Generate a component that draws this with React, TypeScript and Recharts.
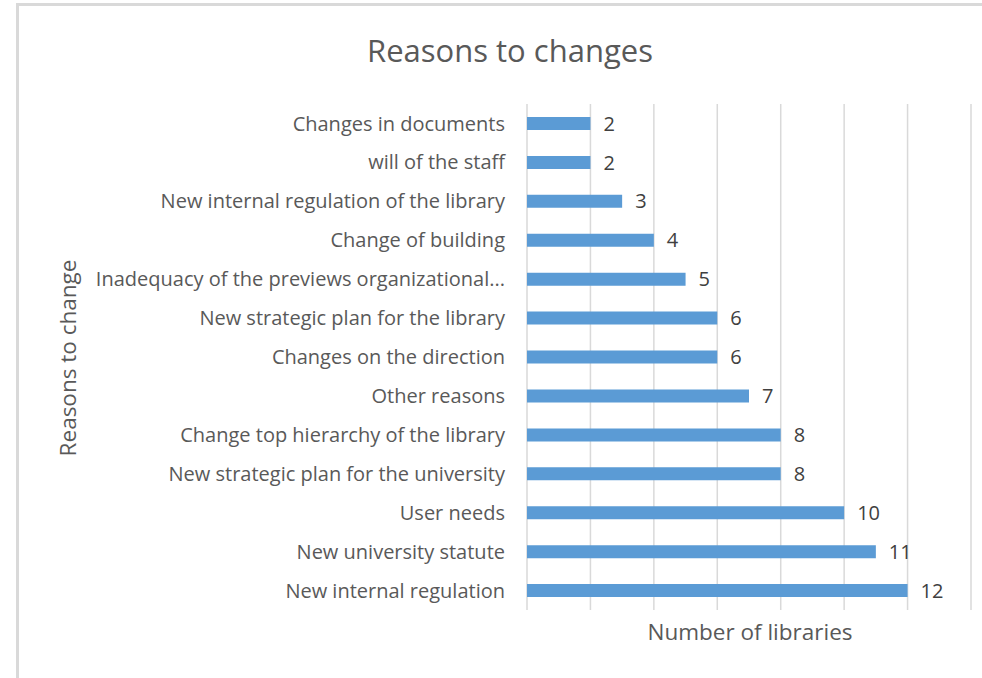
import { BarChart, Bar, XAxis, YAxis, CartesianGrid, LabelList } from 'recharts';

const reasons = [
  'Changes in documents',
  'will of the staff ',
  'New internal regulation of the library',
  'Change of building ',
  'Inadequacy of the previews organizational...',
  'New strategic plan for the library',
  'Changes on the direction',
  'Other reasons',
  'Change top hierarchy of the library ',
  'New strategic plan for the university',
  'User needs ',
  'New university statute ',
  'New internal regulation',
];
const libraries = [2, 2, 3, 4, 5, 6, 6, 7, 8, 8, 10, 11, 12];
const xTicks = [0, 2, 4, 6, 8, 10, 12, 14];

const FONT = '"Open Sans", "Liberation Sans", sans-serif';
const GRAY = '#595959';

const NoTick = () => <g />;

export default function App() {
  const data = reasons.map((name, i) => ({ name, value: libraries[i] }));

  return (
    <div
      style={{
        position: 'absolute',
        left: 0,
        top: 0,
        width: 982,
        height: 678,
        overflow: 'hidden',
        background: '#fff',
        fontFamily: FONT,
      }}
    >
      <div
        style={{
          position: 'absolute',
          left: 16,
          top: 3,
          width: 1000,
          height: 700,
          border: '3px solid #d9d9d9',
          boxSizing: 'border-box',
        }}
      />
      <div
        style={{
          position: 'absolute',
          left: 260,
          top: 28,
          width: 500,
          textAlign: 'center',
          fontSize: 31,
          lineHeight: '44px',
          color: GRAY,
        }}
      >
        Reasons to changes
      </div>
      <div
        style={{
          position: 'absolute',
          left: 600,
          top: 616,
          width: 300,
          textAlign: 'center',
          fontSize: 22.5,
          lineHeight: '32px',
          color: GRAY,
        }}
      >
        Number of libraries
      </div>
      <div
        style={{
          position: 'absolute',
          left: 68 - 150,
          top: 358 - 16,
          width: 300,
          height: 32,
          lineHeight: '32px',
          textAlign: 'center',
          fontSize: 22.5,
          color: GRAY,
          transform: 'rotate(-90deg)',
        }}
      >
        Reasons to change
      </div>
      <div style={{ position: 'absolute', left: 0, top: 0 }}>
        <BarChart
          width={982}
          height={678}
          data={data}
          layout="vertical"
          margin={{ top: 104, right: 11, bottom: 48, left: 0 }}
          barSize={13}
        >
          <CartesianGrid horizontal={false} stroke="#d9d9d9" strokeWidth={1.5} />
          <XAxis
            type="number"
            domain={[0, 14]}
            ticks={xTicks}
            interval={0}
            tick={NoTick}
            axisLine={false}
            tickLine={false}
            height={20}
          />
          <YAxis
            type="category"
            dataKey="name"
            width={527}
            axisLine={false}
            tickLine={false}
            tickSize={0}
            tickMargin={22}
            interval={0}
            tick={{ fill: GRAY, fontSize: 20, fontFamily: FONT }}
          />
          <Bar dataKey="value" fill="#5b9bd5" isAnimationActive={false}>
            <LabelList
              dataKey="value"
              position="right"
              offset={13}
              fill="#404040"
              fontSize={20}
              fontFamily={FONT}
            />
          </Bar>
        </BarChart>
      </div>
    </div>
  );
}
